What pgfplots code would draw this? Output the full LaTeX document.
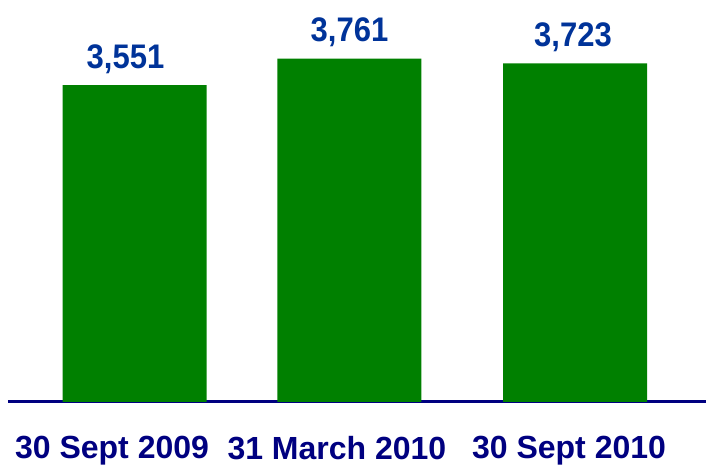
\documentclass[border=0pt]{standalone}
\usepackage{pgfplots}
\pgfplotsset{compat=1.18}
\usepackage{fontspec}
\setmainfont{Liberation Sans}
\definecolor{bargreen}{RGB}{0,128,0}
\definecolor{valblue}{RGB}{0,51,153}
\definecolor{catnavy}{RGB}{0,0,128}
\begin{document}
\begin{tikzpicture}
\begin{axis}[name=a,
  scale only axis, width=349pt, height=201pt,
  xmin=-0.5744, xmax=2.5948, ymin=1031, ymax=4227,
  axis x line*=bottom, axis y line=none,
  x axis line style={-, catnavy, line width=1.5pt},
  ybar, bar width=72pt,
  xtick={-0.102,0.919,1.973},
  xticklabels={30 Sept 2009, \raisebox{-0.75pt}{31 March 2010}, 30 Sept 2010},
  major tick length=0pt,
  xticklabel style={font=\bfseries\fontsize{16}{19}\selectfont, text=catnavy, anchor=base, yshift=-28pt},
  nodes near coords={\scalebox{1}[1.1]{\pgfplotspointmeta}}, point meta=explicit symbolic,
  every node near coord/.append style={font=\bfseries\fontsize{15.5}{18}\selectfont, text=valblue, anchor=base, yshift=8.5pt},
]
\addplot[fill=bargreen, draw=none] table[meta=label] {
x y label
0 3551 {\kern-9pt3,551}
0.976 3761 {3,761}
2 3723 {\kern-2pt3,723}
};
\end{axis}
\pgfresetboundingbox
\path ([xshift=-4pt,yshift=-31.5pt]a.south west) rectangle (a.north east);
\end{tikzpicture}
\end{document}
